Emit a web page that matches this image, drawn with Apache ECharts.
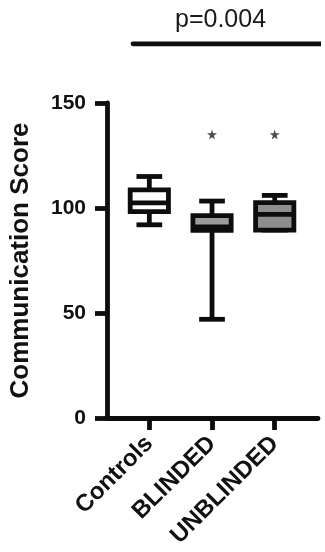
<!DOCTYPE html>
<html>
<head>
<meta charset="utf-8">
<script src="https://cdn.jsdelivr.net/npm/echarts@6/dist/echarts.min.js"></script>
<style>html,body{margin:0;padding:0;background:#fff;}#c{width:325px;height:552px;}</style>
</head>
<body>
<div id="c"></div>
<script>
const categories = ['Controls', 'BLINDED', 'UNBLINDED'];
const categoryPos = [1, 2, 3];
const whiskerMin = [92, 47, 89.5];
const q1 = [98.3, 89.3, 89.5];
const median = [102.4, 91, 97];
const q3 = [108.6, 96.4, 102.6];
const whiskerMax = [115, 103.3, 106];
const boxFill = ['#ffffff', '#9c9c9c', '#8e8e8e'];
const starPos = [2, 3];
const starValue = [135, 135];
const pText = 'p=0.004';
const pLineX = [0.74, 3.95];
const pLineY = 178.2;

const boxData = categoryPos.map((x, i) => [x, whiskerMin[i], q1[i], median[i], q3[i], whiskerMax[i], i]);
const LW = 4.8;
const INK = '#0d0d0d';

const chart = echarts.init(document.getElementById('c'));
chart.setOption({
  animation: false,
  backgroundColor: '#fff',
  title: {
    text: pText, left: 175, top: 8, padding: 0,
    textStyle: { fontFamily: 'Liberation Sans', fontWeight: 'normal', fontSize: 25, color: '#1a1a1a' }
  },
  grid: { left: 106, right: 7, top: 103, bottom: 134, containLabel: false },
  xAxis: {
    type: 'value', min: 0.325, max: 3.69,
    splitLine: { show: false },
    axisLine: { show: true, lineStyle: { color: INK, width: LW } },
    axisTick: { show: true, customValues: categoryPos, length: 12, lineStyle: { color: INK, width: LW } },
    axisLabel: {
      customValues: categoryPos, rotate: 45, margin: 22,
      formatter: v => categories[Math.round(v) - 1] || '',
      fontFamily: 'Liberation Sans', fontWeight: 'bold', fontSize: 24, color: '#111'
    }
  },
  yAxis: {
    type: 'value', min: 0, max: 150, interval: 50,
    name: 'Communication Score', nameLocation: 'middle', nameGap: 73,
    nameTextStyle: { fontFamily: 'Liberation Sans', fontWeight: 'bold', fontSize: 26, color: '#111' },
    splitLine: { show: false },
    axisLine: { show: true, lineStyle: { color: INK, width: LW } },
    axisTick: { show: true, length: 12, lineStyle: { color: INK, width: LW } },
    axisLabel: { margin: 21, fontFamily: 'Liberation Sans', fontWeight: 'bold', fontSize: 21, color: '#111' }
  },
  series: [
    {
      type: 'custom',
      data: boxData,
      renderItem: function (params, api) {
        const x = api.value(0);
        const pMin = api.coord([x, api.value(1)]);
        const pQ1 = api.coord([x, api.value(2)]);
        const pMed = api.coord([x, api.value(3)]);
        const pQ3 = api.coord([x, api.value(4)]);
        const pMax = api.coord([x, api.value(5)]);
        const unit = api.size([1, 0])[0];
        const bw = unit * 0.61;
        const cw = unit * 0.41;
        const cx = pMin[0];
        const fill = boxFill[api.value(6)];
        const st = { stroke: INK, lineWidth: LW, fill: null };
        return {
          type: 'group',
          children: [
            { type: 'line', shape: { x1: cx, y1: pMin[1], x2: cx, y2: pMax[1] }, style: st },
            { type: 'line', shape: { x1: cx - cw / 2, y1: pMin[1], x2: cx + cw / 2, y2: pMin[1] }, style: st },
            { type: 'line', shape: { x1: cx - cw / 2, y1: pMax[1], x2: cx + cw / 2, y2: pMax[1] }, style: st },
            { type: 'rect', shape: { x: cx - bw / 2, y: pQ3[1], width: bw, height: pQ1[1] - pQ3[1] },
              style: { stroke: INK, lineWidth: LW, fill: fill } },
            { type: 'line', shape: { x1: cx - bw / 2, y1: pMed[1], x2: cx + bw / 2, y2: pMed[1] }, style: st }
          ]
        };
      }
    },
    {
      type: 'scatter',
      data: starPos.map((x, i) => [x, starValue[i]]),
      symbol: 'path://M50,0 L61,35 L98,35 L68,57 L79,91 L50,70 L21,91 L32,57 L2,35 L39,35 Z',
      symbolSize: 10,
      itemStyle: { color: '#222' }
    },
    {
      type: 'line',
      data: pLineX.map(x => [x, pLineY]),
      clip: false,
      symbol: 'none',
      lineStyle: { color: INK, width: LW, cap: 'round' }
    }
  ]
});
</script>
</body>
</html>
